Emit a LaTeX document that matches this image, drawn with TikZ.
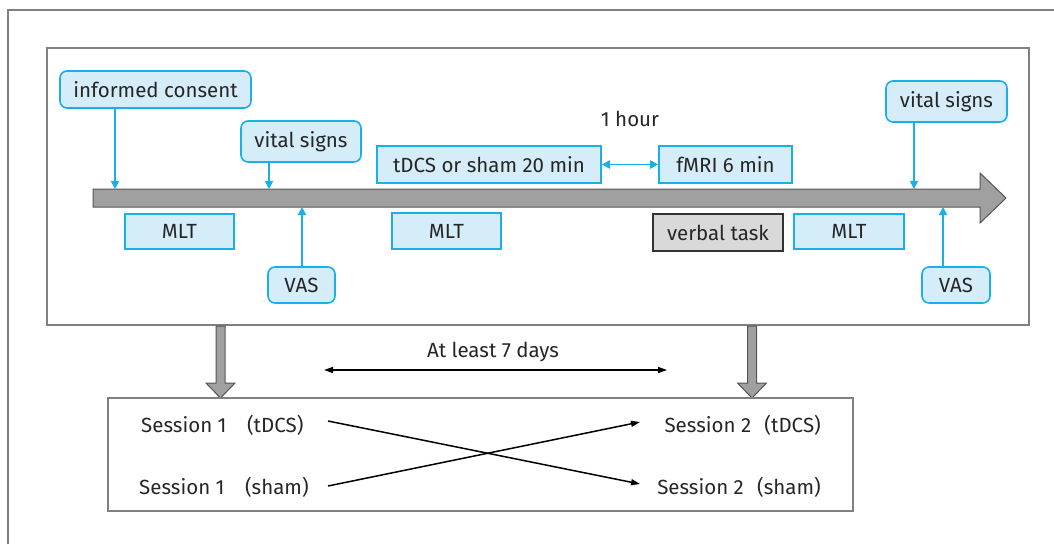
\documentclass[tikz,border=0pt]{standalone}
\usepackage{fontspec}
\setmainfont{Fira Sans}
\usetikzlibrary{arrows.meta}
\definecolor{cy}{HTML}{1AAFE6}
\definecolor{cyfill}{HTML}{D5EDF9}
\definecolor{bar}{HTML}{A0A0A0}
\definecolor{barline}{HTML}{555555}
\definecolor{frame}{HTML}{808080}
\tikzset{
  txt/.style={font=\fontsize{20.5}{24}\selectfont, text=black!85},
  base/.style={txt, draw=cy, fill=cyfill, line width=1.6pt, inner sep=0pt},
  rbox/.style={base, rounded corners=7pt},
  sbox/.style={base},
  gbox/.style={txt, draw=black!80, fill=black!15, line width=1.6pt, inner sep=0pt},
  carrow/.style={draw=cy, line width=1.8pt, -{Triangle[length=8pt,width=8pt]}},
  cdarrow/.style={draw=cy, line width=1.8pt, {Triangle[length=8pt,width=8pt]}-{Triangle[length=8pt,width=8pt]}},
  karrow/.style={draw=black, line width=1.5pt, -{Triangle[length=9pt,width=6pt]}},
  kdarrow/.style={draw=black, line width=1.5pt, {Triangle[length=9pt,width=6pt]}-{Triangle[length=9pt,width=6pt]}},
  lbl/.style={txt, inner sep=0pt},
  fat/.style={draw=barline, fill=bar, line width=1pt},
}
\begin{document}
\begin{tikzpicture}[x=1pt,y=-1pt]
\useasboundingbox (0,0) rectangle (1054,544);
% outer frame (only top and left visible)
\draw[frame, line width=1.4pt] (8,544) -- (8,10) -- (1054,10);
% inner box
\draw[frame, line width=1.4pt, fill=white] (47,48) rectangle (1029,325);
% timeline arrow
\draw[fat] (93,189) -- (980,189) -- (980,173) -- (1006,198) -- (980,223) -- (980,207) -- (93,207) -- cycle;
% boxes
\node[rbox, minimum width=191pt, minimum height=37pt] (ic) at (155.5,89.5) {informed consent};
\node[rbox, minimum width=120pt, minimum height=41pt] (vs1) at (301,141.5) {vital signs};
\node[sbox, minimum width=109pt, minimum height=35pt] (mlt1) at (179.5,231.5) {MLT};
\node[rbox, minimum width=67pt, minimum height=36pt] (vas1) at (301.5,285) {VAS};
\node[sbox, minimum width=224pt, minimum height=37pt] (tdcs) at (489,164.5) {tDCS or sham 20 min};
\node[sbox, minimum width=133pt, minimum height=37pt] (fmri) at (725.5,164.5) {fMRI 6 min};
\node[sbox, minimum width=109pt, minimum height=36pt] (mlt2) at (446.5,231) {MLT};
\node[gbox, minimum width=130pt, minimum height=37pt] (vt) at (718,232.5) {verbal task};
\node[sbox, minimum width=110pt, minimum height=35pt] (mlt3) at (849,231.5) {MLT};
\node[rbox, minimum width=121pt, minimum height=41pt] (vs2) at (946.5,101.5) {vital signs};
\node[rbox, minimum width=68pt, minimum height=36pt] (vas2) at (956,285) {VAS};
\node[lbl] (hour) at (630,119) {1 hour};
% timeline attachment points
\coordinate (a1) at (115,189);
\coordinate (a2) at (269,189);
\coordinate (a3) at (302,207);
\coordinate (a4) at (914,189);
\coordinate (a5) at (943,207);
\draw[carrow] (ic.south -| a1) -- (a1);
\draw[carrow] (vs1.south -| a2) -- (a2);
\draw[carrow] (vas1.north -| a3) -- (a3);
\draw[carrow] (vs2.south -| a4) -- (a4);
\draw[carrow] (vas2.north -| a5) -- (a5);
\draw[cdarrow] (tdcs.east) -- (fmri.west);
% down arrows
\draw[fat] (216,326) -- (225,326) -- (225,383) -- (235,383) -- (220.5,398) -- (206,383) -- (216,383) -- cycle;
\draw[fat] (747.5,326) -- (756.5,326) -- (756.5,383) -- (766.5,383) -- (752,398) -- (737.5,383) -- (747.5,383) -- cycle;
% at least 7 days
\node[lbl] (days) at (493,352) {At least 7 days};
\coordinate (d1) at (324,370);
\coordinate (d2) at (667,370);
\draw[kdarrow] (d1) -- (d2);
% sessions box
\draw[frame, line width=1.2pt] (108,398) rectangle (853,511);
\node[lbl, anchor=west] (s1t) at (141,425) {Session 1\hspace{1.0em}(tDCS)};
\node[lbl, anchor=west] (s1s) at (139,487) {Session 1\hspace{1.0em}(sham)};
\node[lbl, anchor=east] (s2t) at (821,425) {Session 2\hspace{0.65em}(tDCS)};
\node[lbl, anchor=east] (s2s) at (821,487) {Session 2\hspace{0.65em}(sham)};
\coordinate (c1) at (328,421);
\coordinate (c2) at (640,484);
\coordinate (c3) at (328,486);
\coordinate (c4) at (640,422);
\draw[karrow] (c1) -- (c2);
\draw[karrow] (c3) -- (c4);
\end{tikzpicture}
\end{document}
